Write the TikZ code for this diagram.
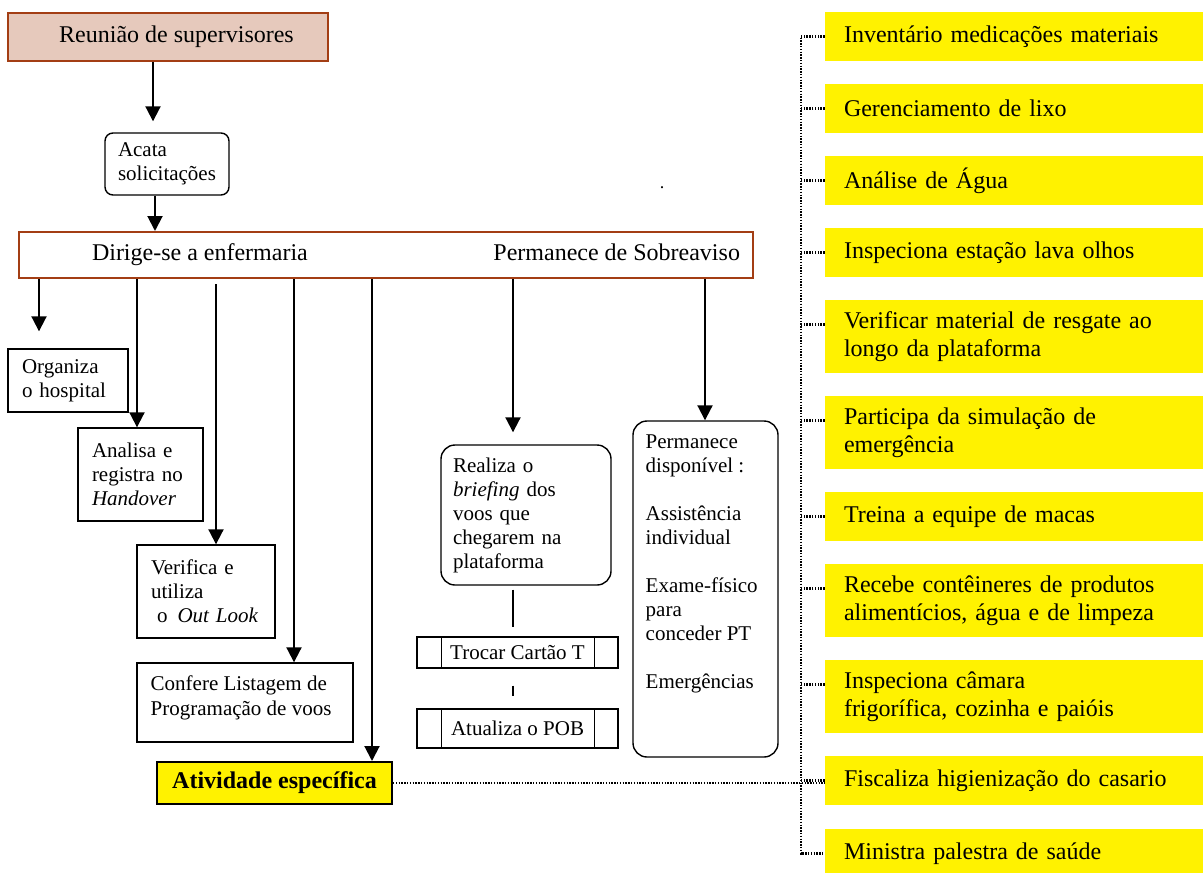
\documentclass[tikz,border=0pt]{standalone}
\usepackage{fontspec}
\setmainfont{Liberation Serif}
\usetikzlibrary{arrows.meta}
\definecolor{brun}{RGB}{163,62,20}
\definecolor{rosa}{RGB}{230,201,188}

\begin{document}
\begin{tikzpicture}[x=0.5pt,y=-0.5pt,
	arr/.style={-{Triangle[length=7.5pt,width=7.5pt]}, line width=1pt},
	dots/.style={line width=1.1pt, dash pattern=on 0.7pt off 0.7pt},
	caixa/.style={draw, line width=0.7pt, align=left, inner xsep=7pt, font=\fontsize{10.5}{12}\selectfont},
	proc/.style={draw, line width=0.7pt, minimum width=100.5pt, font=\fontsize{10.5}{12}\selectfont},
	lado/.style={fill=yellow, inner xsep=9.5pt, text width=170pt, align=left, font=\fontsize{12}{14}\selectfont}]

\useasboundingbox (0,0) rectangle (1203,872);
\clip (0,0) rectangle (1203,872);

	\node (reun) [draw=brun, fill=rosa, line width=1pt, minimum width=160pt, minimum height=24pt, font=\fontsize{12}{14}\selectfont] at (168,37) {\hspace*{8.5pt}Reunião de supervisores};
	\node (acata) [caixa, rounded corners=4pt, inner xsep=6.5pt, text width=49pt, minimum height=31pt] at (167,164) {Acata\\solicitações};
	\node (dirige) [draw=brun, line width=1pt, minimum width=367pt, minimum height=23pt, inner xsep=0pt, font=\fontsize{12}{14}\selectfont] at (386,255) {\makebox[367pt]{\hspace{36.5pt}Dirige-se a enfermaria\hfill Permanece de Sobreaviso\hspace{6.5pt}}};
	\node (ponto) [font=\small] at (662,188) {.};

	\node (org) [caixa, text width=46pt, minimum height=31.5pt] at (68,380.5) {Organiza\\o hospital};
	\node (anal) [caixa, text width=48.5pt, minimum height=46.5pt] at (140.5,474.5) {Analisa e\\registra no\\\textit{Handover}};
	\node (verif) [caixa, text width=55pt, minimum height=46.5pt] at (206,591.5) {Verifica e\\utiliza\\\mbox{\hspace*{3pt}o\hspace{5pt}\textit{Out Look}}};
	\node (conf) [draw, line width=0.7pt, minimum width=108pt, minimum height=39.5pt] at (245,702.5) {};
	\node (conftxt) [anchor=north west, align=left, inner sep=0pt, font=\fontsize{10.5}{12.5}\selectfont] at ([xshift=7pt,yshift=-6.5pt]conf.north west) {Confere Listagem de\\Programação de voos};
	\node (ativ) [draw, fill=yellow, line width=1pt, minimum width=117.5pt, minimum height=21pt, font=\fontsize{12}{14}\selectfont\bfseries] at (274.5,783) {Atividade específica};

	\node (real) [caixa, rounded corners=7pt, inner xsep=6pt, text width=73pt, minimum height=70pt] at (526,515) {Realiza o\\\textit{briefing} dos\\voos que\\chegarem na\\plataforma};
	\node (troca) [proc, minimum height=15.5pt] at (517.5,652.5) {Trocar Cartão T};
	\node (atual) [proc, minimum height=19.5pt] at (517.5,728.5) {Atualiza o POB};
	\draw[line width=0.7pt] ([xshift=12.5pt]troca.north west) -- ([xshift=12.5pt]troca.south west);
	\draw[line width=0.7pt] ([xshift=-12pt]troca.north east) -- ([xshift=-12pt]troca.south east);
	\draw[line width=0.7pt] ([xshift=12.5pt]atual.north west) -- ([xshift=12.5pt]atual.south west);
	\draw[line width=0.7pt] ([xshift=-12pt]atual.north east) -- ([xshift=-12pt]atual.south east);

	\node (perm) [draw, line width=0.7pt, rounded corners=7pt, minimum width=72.5pt, minimum height=168pt] at (705.5,589) {};
	\node (permtxt) [anchor=north west, align=left, inner sep=0pt, font=\fontsize{10.5}{12}\selectfont] at ([xshift=6.5pt,yshift=-7pt]perm.north west) {Permanece\\disponível :\\[12pt]Assistência\\individual\\[12pt]Exame-físico\\para\\conceder PT\\[12pt]Emergências};

	% tarefas do lado direito
	\node (S1) [lado, minimum height=24.5pt] at (1014,36.5) {Inventário medicações materiais};
	\node (S2) [lado, minimum height=24.5pt] at (1014,108.5) {Gerenciamento de lixo};
	\node (S3) [lado, minimum height=24.5pt] at (1014,180.5) {Análise de Água};
	\node (S4) [lado, minimum height=24.5pt] at (1014,252.5) {Inspeciona estação lava olhos};
	\node (S5) [lado, minimum height=36.5pt] at (1014,336.5) {Verificar material de resgate ao\\longo da plataforma};
	\node (S6) [lado, minimum height=36.5pt] at (1014,432.5) {Participa da simulação de\\emergência};
	\node (S7) [lado, minimum height=24.5pt] at (1014,516.5) {Treina a equipe de macas};
	\node (S8) [lado, minimum height=36.5pt] at (1014,600.5) {Recebe contêineres de produtos\\alimentícios, água e de limpeza};
	\node (S9) [lado, minimum height=36.5pt] at (1014,696.5) {Inspeciona câmara\\frigorífica, cozinha e paióis};
	\node (S10) [lado, minimum height=24.5pt] at (1014,780.5) {Fiscaliza higienização do casario};
	\node (S11) [lado, minimum height=24.5pt] at (1014,853.5) {Ministra palestra de saúde};

	\coordinate (k0) at (153,0);
	\coordinate (k1) at (155,0);
	\coordinate (d1) at (39,0);
	\coordinate (d2) at (137,0);
	\coordinate (d3) at (216,0);
	\coordinate (d4) at (294,0);
	\coordinate (d5) at (372,0);
	\coordinate (d6) at (513,0);
	\coordinate (d7) at (705,0);

	\draw[arr, shorten >=5.5pt] (reun.south -| k0) -- (acata.north -| k0);
	\draw[arr] (acata.south -| k1) -- (dirige.north -| k1);
	\draw[arr, shorten >=8.5pt] (dirige.south -| d1) -- (org.north -| d1);
	\draw[arr] (dirige.south -| d2) -- (anal.north -| d2);
	\draw[arr, shorten <=2.5pt] (dirige.south -| d3) -- (verif.north -| d3);
	\draw[arr] (dirige.south -| d4) -- (conf.north -| d4);
	\draw[arr] (dirige.south -| d5) -- (ativ.north -| d5);
	\draw[arr, shorten >=6pt] (dirige.south -| d6) -- (real.north -| d6);
	\draw[arr] (dirige.south -| d7) -- (perm.north -| d7);
	\draw[line width=0.8pt, shorten <=2pt, shorten >=4.5pt] (real.south -| d6) -- (troca.north -| d6);
	\draw[line width=0.8pt, shorten <=8.5pt, shorten >=6pt] (troca.south -| d6) -- (atual.north -| d6);

	\draw[dots] (S1.west) -- ++(-24,0) |- (S11.west);
	\draw[dots] (S2.west) -- ++(-24,0);
	\draw[dots] (S3.west) -- ++(-24,0);
	\draw[dots] (S4.west) -- ++(-24,0);
	\draw[dots] ([yshift=6pt]S5.west) -- ++(-24,0);
	\draw[dots] ([yshift=6pt]S6.west) -- ++(-24,0);
	\draw[dots] (S7.west) -- ++(-24,0);
	\draw[dots] ([yshift=6pt]S8.west) -- ++(-24,0);
	\draw[dots] ([yshift=6pt]S9.west) -- ++(-24,0);
	\draw[dots] (S10.west) -- ++(-24,0);
	\draw[dots] (ativ.east) -- (ativ.east -| S10.west);

\end{tikzpicture}
\end{document}
